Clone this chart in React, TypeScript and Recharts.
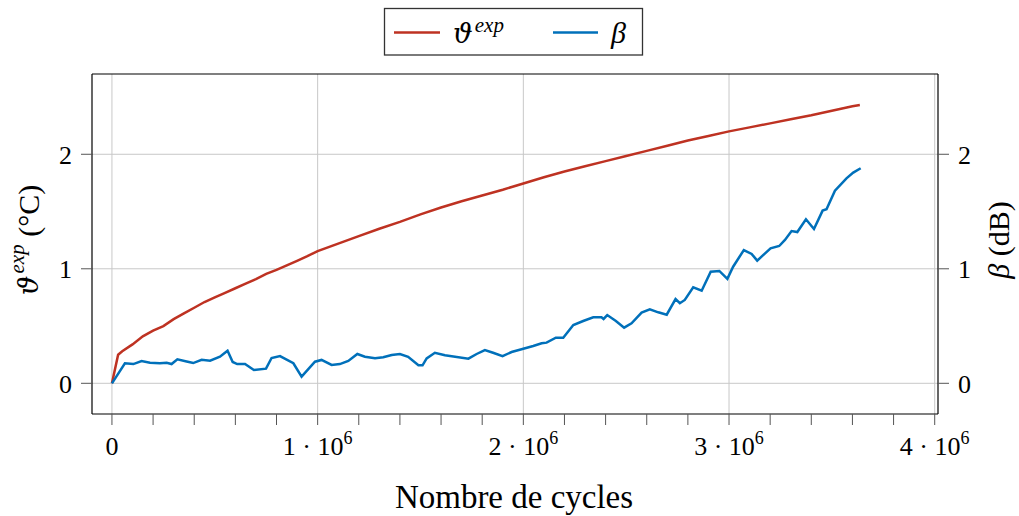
import { ComposedChart, Line, XAxis, YAxis, ReferenceLine, Label } from 'recharts'

// theta exp (°C) vs number of cycles
const thetaCycles = [
    0, 30000, 50000, 100000, 150000, 200000, 250000, 300000, 350000, 400000,
    450000, 500000, 550000, 600000, 650000, 700000, 750000, 800000, 850000, 900000,
    950000, 1000000, 1100000, 1200000, 1300000, 1400000, 1500000, 1600000, 1700000, 1800000,
    1900000, 2000000, 2100000, 2200000, 2300000, 2400000, 2500000, 2600000, 2700000, 2800000,
    2900000, 3000000, 3100000, 3200000, 3300000, 3400000, 3500000, 3600000, 3636000
]
const thetaValues = [
    0, 0.25, 0.28, 0.34, 0.41, 0.46, 0.5, 0.56, 0.61, 0.66,
    0.71, 0.75, 0.79, 0.83, 0.87, 0.91, 0.955, 0.99, 1.03, 1.07,
    1.11, 1.155, 1.22, 1.285, 1.35, 1.41, 1.475, 1.535, 1.59, 1.64,
    1.69, 1.745, 1.8, 1.85, 1.895, 1.94, 1.985, 2.03, 2.075, 2.12,
    2.16, 2.2, 2.235, 2.27, 2.305, 2.34, 2.38, 2.42, 2.43
]

// beta (dB) vs number of cycles
const betaCycles = [
    0, 63000, 104000, 144000, 185000, 233000, 266000, 290000, 318000, 363000,
    395000, 436000, 477000, 525000, 562000, 587000, 609000, 647000, 690000, 749000,
    776000, 817000, 882000, 922000, 987000, 1019000, 1068000, 1108000, 1149000, 1193000,
    1230000, 1279000, 1319000, 1360000, 1400000, 1440000, 1490000, 1510000, 1530000, 1570000,
    1619000, 1733000, 1773000, 1813000, 1853000, 1899000, 1943000, 2000000, 2048000, 2089000,
    2113000, 2158000, 2194000, 2243000, 2291000, 2340000, 2380000, 2390000, 2408000, 2450000,
    2490000, 2526000, 2575000, 2615000, 2656000, 2697000, 2740000, 2761000, 2785000, 2826000,
    2867000, 2911000, 2953000, 2992000, 3020000, 3072000, 3110000, 3137000, 3166000, 3202000,
    3244000, 3272000, 3304000, 3332000, 3374000, 3413000, 3455000, 3474000, 3515000, 3571000,
    3604000, 3640000
]
const betaValues = [
    0, 0.175, 0.168, 0.195, 0.18, 0.175, 0.18, 0.168, 0.21, 0.19,
    0.177, 0.206, 0.197, 0.232, 0.285, 0.186, 0.168, 0.168, 0.116, 0.128,
    0.221, 0.238, 0.175, 0.058, 0.189, 0.204, 0.16, 0.168, 0.195, 0.256,
    0.232, 0.218, 0.227, 0.247, 0.256, 0.232, 0.157, 0.157, 0.218, 0.267,
    0.245, 0.215, 0.256, 0.29, 0.267, 0.238, 0.273, 0.302, 0.326, 0.349,
    0.355, 0.398, 0.398, 0.509, 0.544, 0.576, 0.576, 0.562, 0.596, 0.544,
    0.486, 0.524, 0.617, 0.646, 0.62, 0.599, 0.736, 0.699, 0.728, 0.838,
    0.809, 0.975, 0.981, 0.912, 1.018, 1.164, 1.13, 1.071, 1.12, 1.179,
    1.199, 1.252, 1.33, 1.321, 1.432, 1.348, 1.508, 1.52, 1.682, 1.79,
    1.84, 1.878
]

const xTicks = [
    0, 200000, 400000, 600000, 800000, 1000000, 1200000, 1400000, 1600000, 1800000, 2000000,
    2200000, 2400000, 2600000, 2800000, 3000000, 3200000, 3400000, 3600000, 3800000, 4000000
]
const xGrid = [0, 1000000, 2000000, 3000000, 4000000]
const yTicks = [0, 1, 2]

const thetaData = thetaCycles.map((n, i) => ({ n, v: thetaValues[i] }))
const betaData = betaCycles.map((n, i) => ({ n, v: betaValues[i] }))

const FONT = '"Liberation Serif", "DejaVu Serif", serif'
const GREEK = '"DejaVu Serif", "Liberation Serif", serif'
const RED = '#BE3222'
const BLUE = '#0070BA'
const GRID = '#C8C8C8'
const TICK = '#555'

const XTick = ({ x, y, payload }: any) => {
    const v = payload.value
    if (v % 1000000 !== 0) return null
    const m = v / 1000000
    return (
        <text x={x} y={y + 30} textAnchor="middle" fontFamily={FONT} fontSize={26} fill="#000">
            {m === 0 ? '0' : (
                <>
                    {`${m} · 10`}
                    <tspan dy={-11} fontSize={18}>6</tspan>
                </>
            )}
        </text>
    )
}

// theta with the "exp" superscript
const ThetaExp = ({ size }: { size: number }) => (
    <>
        <tspan fontFamily={GREEK} fontStyle="italic" fontSize={size * 0.92}>ϑ</tspan>
        <tspan fontStyle="italic" fontSize={size * 0.7} dx={2} dy={-size * 0.36}>exp</tspan>
    </>
)

const LeftLabel = () => (
    <text
        x={28}
        y={240}
        transform="rotate(-90, 28, 240)"
        textAnchor="middle"
        dominantBaseline="central"
        fontFamily={FONT}
        fontSize={30}
        fill="#000"
    >
        <ThetaExp size={30} />
        <tspan dy={11}> (°C)</tspan>
    </text>
)

const RightLabel = () => (
    <text
        x={998}
        y={240}
        transform="rotate(-90, 998, 240)"
        textAnchor="middle"
        dominantBaseline="central"
        fontFamily={FONT}
        fontSize={30}
        fill="#000"
    >
        <tspan fontStyle="italic">β</tspan>
        <tspan> (dB)</tspan>
    </text>
)

const BottomLabel = () => (
    <text x={514} y={508} textAnchor="middle" fontFamily={FONT} fontSize={33} fill="#000">
        Nombre de cycles
    </text>
)

export default function App() {
    return (
        <div style={{ position: 'absolute', left: 0, top: 0, width: 1019, height: 516, background: '#fff' }}>
            <ComposedChart width={1019} height={516} margin={{ top: 0, right: 0, bottom: 0, left: 0 }}>
                <XAxis
                    xAxisId="b"
                    dataKey="n"
                    type="number"
                    domain={[-97000, 4016000]}
                    ticks={xTicks}
                    allowDataOverflow
                    height={102}
                    tickSize={11}
                    tickMargin={0}
                    interval={0}
                    axisLine={{ stroke: '#000', strokeWidth: 1.2 }}
                    tickLine={{ stroke: TICK }}
                    tick={<XTick />}
                    label={<Label content={BottomLabel} />}
                />
                <XAxis
                    xAxisId="t"
                    orientation="top"
                    dataKey="n"
                    type="number"
                    domain={[-97000, 4016000]}
                    ticks={xTicks}
                    allowDataOverflow
                    height={74}
                    tickSize={10}
                    interval={0}
                    axisLine={{ stroke: '#000', strokeWidth: 1.2 }}
                    tickLine={{ stroke: TICK }}
                    tick={false}
                />
                <YAxis
                    yAxisId="l"
                    type="number"
                    domain={[-0.268, 2.701]}
                    ticks={yTicks}
                    allowDataOverflow
                    width={92}
                    tickSize={11}
                    tickMargin={9}
                    interval={0}
                    axisLine={{ stroke: '#000', strokeWidth: 1.2 }}
                    tickLine={{ stroke: TICK }}
                    tick={{ fill: '#000', fontSize: 26, fontFamily: FONT }}
                    label={<Label content={LeftLabel} />}
                />
                <YAxis
                    yAxisId="r"
                    orientation="right"
                    type="number"
                    domain={[-0.268, 2.701]}
                    ticks={yTicks}
                    allowDataOverflow
                    width={81}
                    tickSize={11}
                    tickMargin={9}
                    interval={0}
                    axisLine={{ stroke: '#000', strokeWidth: 1.2 }}
                    tickLine={{ stroke: TICK }}
                    tick={{ fill: '#000', fontSize: 26, fontFamily: FONT }}
                    label={<Label content={RightLabel} />}
                />

                {xGrid.map((v) => (
                    <ReferenceLine key={`gx${v}`} x={v} xAxisId="b" yAxisId="l" stroke={GRID} strokeWidth={1} />
                ))}
                {yTicks.map((v) => (
                    <ReferenceLine key={`gy${v}`} y={v} xAxisId="b" yAxisId="l" stroke={GRID} strokeWidth={1} />
                ))}

                <Line
                    data={thetaData}
                    xAxisId="b"
                    yAxisId="l"
                    dataKey="v"
                    type="linear"
                    stroke={RED}
                    strokeWidth={2.5}
                    dot={false}
                    isAnimationActive={false}
                />
                <Line
                    data={betaData}
                    xAxisId="b"
                    yAxisId="r"
                    dataKey="v"
                    type="linear"
                    stroke={BLUE}
                    strokeWidth={2.5}
                    dot={false}
                    isAnimationActive={false}
                />
            </ComposedChart>

            {/* legend box */}
            <svg width={1019} height={60} style={{ position: 'absolute', left: 0, top: 0, pointerEvents: 'none' }}>
                <rect x={384.5} y={8.5} width={258} height={46.5} fill="#fff" stroke="#333" strokeWidth={1.3} />
                <line x1={394} y1={32.5} x2={440} y2={32.5} stroke={RED} strokeWidth={2.5} />
                <text x={453} y={43} fontFamily={FONT} fontSize={30} fill="#000">
                    <ThetaExp size={30} />
                </text>
                <line x1={553} y1={32.5} x2={598} y2={32.5} stroke={BLUE} strokeWidth={2.5} />
                <text x={611} y={43} fontFamily={FONT} fontSize={30} fontStyle="italic" fill="#000">
                    β
                </text>
            </svg>
        </div>
    )
}
